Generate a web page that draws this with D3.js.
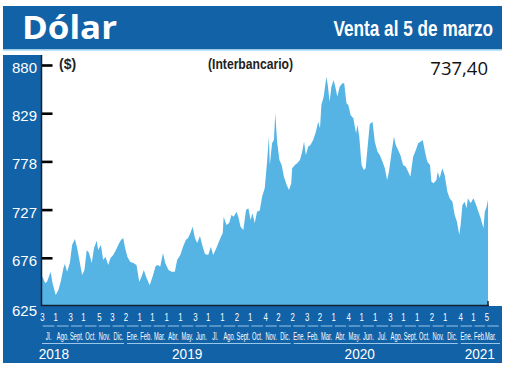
<!DOCTYPE html>
<html><head><meta charset="utf-8">
<script src="https://cdn.jsdelivr.net/npm/d3@7"></script>
<style>body{margin:0;background:#fff}svg{display:block}</style>
</head><body>
<script>
const dates = ["2018-07-02","2018-07-09","2018-07-13","2018-07-21","2018-07-25","2018-08-01","2018-08-07","2018-08-12","2018-08-18","2018-08-21","2018-08-26","2018-09-01","2018-09-06","2018-09-12","2018-09-17","2018-09-23","2018-09-28","2018-10-03","2018-10-08","2018-10-13","2018-10-19","2018-10-24","2018-10-30","2018-11-02","2018-11-08","2018-11-13","2018-11-18","2018-11-24","2018-11-29","2018-12-05","2018-12-11","2018-12-16","2018-12-22","2018-12-27","2018-12-31","2019-01-05","2019-01-11","2019-01-18","2019-01-25","2019-01-31","2019-02-05","2019-02-10","2019-02-16","2019-02-23","2019-03-02","2019-03-08","2019-03-13","2019-03-18","2019-03-24","2019-03-29","2019-04-05","2019-04-12","2019-04-19","2019-04-24","2019-05-01","2019-05-07","2019-05-13","2019-05-18","2019-05-23","2019-05-28","2019-06-02","2019-06-07","2019-06-13","2019-06-19","2019-06-24","2019-07-01","2019-07-07","2019-07-12","2019-07-19","2019-07-26","2019-08-02","2019-08-04","2019-08-10","2019-08-16","2019-08-21","2019-08-26","2019-09-01","2019-09-05","2019-09-10","2019-09-16","2019-09-22","2019-09-27","2019-10-02","2019-10-06","2019-10-11","2019-10-16","2019-10-22","2019-10-27","2019-11-02","2019-11-07","2019-11-11","2019-11-13","2019-11-18","2019-11-22","2019-11-25","2019-11-29","2019-12-04","2019-12-09","2019-12-14","2019-12-20","2019-12-25","2019-12-30","2020-01-01","2020-01-07","2020-01-12","2020-01-18","2020-01-23","2020-01-27","2020-01-31","2020-02-05","2020-02-10","2020-02-16","2020-02-22","2020-02-27","2020-03-02","2020-03-05","2020-03-10","2020-03-16","2020-03-19","2020-03-23","2020-03-27","2020-04-01","2020-04-06","2020-04-09","2020-04-14","2020-04-20","2020-04-24","2020-04-29","2020-05-03","2020-05-08","2020-05-14","2020-05-20","2020-05-23","2020-05-27","2020-06-01","2020-06-06","2020-06-10","2020-06-13","2020-06-19","2020-06-25","2020-06-30","2020-07-06","2020-07-11","2020-07-17","2020-07-22","2020-07-27","2020-07-31","2020-08-06","2020-08-11","2020-08-15","2020-08-20","2020-08-25","2020-08-31","2020-09-06","2020-09-11","2020-09-16","2020-09-22","2020-09-28","2020-10-03","2020-10-08","2020-10-13","2020-10-18","2020-10-23","2020-10-29","2020-11-01","2020-11-06","2020-11-12","2020-11-15","2020-11-19","2020-11-25","2020-11-30","2020-12-06","2020-12-11","2020-12-17","2020-12-22","2020-12-27","2021-01-01","2021-01-04","2021-01-08","2021-01-13","2021-01-17","2021-01-20","2021-01-26","2021-02-01","2021-02-07","2021-02-12","2021-02-17","2021-02-23","2021-02-26","2021-03-02","2021-03-05"];
const values = [656.7,649.3,650.7,661.3,649.3,636.6,641.9,650.7,665.2,669.4,661.3,670.5,689.5,695.9,686.4,670.5,657.8,663.1,684.3,681.1,670.5,686.4,694.1,684.3,689.5,673.7,677.2,668.4,675.8,679.0,684.3,689.5,694.8,696.9,686.4,677.2,671.9,670.5,668.4,650.7,656.0,663.1,654.6,647.0,657.3,667.3,668.4,666.6,681.1,670.5,663.1,661.3,661.3,673.7,679.0,687.7,694.8,696.9,702.2,708.9,696.9,691.7,699.1,687.7,680.0,679.0,687.7,679.0,686.4,694.8,702.2,719.5,710.7,712.8,721.3,719.5,724.8,719.5,708.9,705.4,726.6,728.4,716.0,723.1,712.8,724.8,726.0,740.3,749.8,777.7,804.1,774.2,797.1,800.6,828.9,798.8,779.5,774.2,761.8,753.0,747.7,754.8,770.7,774.2,776.0,779.5,788.3,798.8,784.8,793.5,795.3,800.6,809.4,820.0,813.0,837.7,846.5,867.6,858.8,841.2,857.0,864.1,853.5,846.5,857.0,860.6,860.6,839.5,837.7,827.1,823.6,807.7,816.5,804.1,774.2,768.9,770.7,786.6,817.6,820.0,798.8,788.3,784.8,777.7,770.7,758.3,767.1,788.3,804.1,795.3,790.0,784.8,774.2,772.4,767.1,761.8,783.0,790.0,797.1,798.8,800.6,788.3,777.7,774.2,756.5,754.8,758.3,767.1,760.1,770.7,763.6,745.9,739.0,735.4,721.3,714.2,700.1,710.7,731.9,735.4,728.4,739.0,733.7,739.0,731.9,724.8,717.8,707.2,724.8,730.1,737.4];

const yTicks = [625,676,727,778,829,880];
const monthLabels = ["Jl.","Ago.","Sept.","Oct.","Nov.","Dic.","Ene.","Feb.","Mar.","Abr.","May.","Jun.","Jl.","Ago.","Sept.","Oct.","Nov.","Dic.","Ene.","Feb.","Mar.","Abr.","May.","Jun.","Jul.","Ago.","Sept.","Oct.","Nov.","Dic.","Ene.","Feb.","Mar."];
const firstDays = [3,1,3,1,5,3,2,1,1,1,1,3,1,1,2,1,4,2,2,3,2,1,4,1,1,3,1,1,2,1,4,1,5];
const years = ["2018","2019","2020","2021"];
const yearLabelDates = ["2018-07-28","2019-05-16","2020-05-28","2021-02-15"];

const title = "Dólar";
const subtitle = "Venta al 5 de marzo";
const unitLabel = "($)";
const noteLabel = "(Interbancario)";
const lastValue = "737,40";

const BLUE = "#1262a8", AREA = "#55b4e4", DARK = "#14202e";
const parse = d3.timeParse("%Y-%m-%d");
const data = dates.map((d,i)=>({date:parse(d), value:values[i]}));

const W = 520, H = 369;
const x = d3.scaleTime().domain([parse("2018-07-02"), parse("2021-03-05")]).range([42, 488]);
const y = d3.scaleLinear().domain([625, 880]).range([306, 65]);

const svg = d3.select("body").append("svg").attr("width", W).attr("height", H);

// header
svg.append("rect").attr("x",3).attr("y",6).attr("width",499).attr("height",43.5).attr("fill",BLUE);
svg.append("rect").attr("x",3).attr("y",49.5).attr("width",499).attr("height",1.5).attr("fill","#b8e6f8");
svg.append("text").attr("x",22).attr("y",38.5).text(title)
  .attr("fill","#fff").attr("font-family","'Open Sans', sans-serif").attr("font-weight",700)
  .attr("font-size",33).attr("textLength",95).attr("lengthAdjust","spacingAndGlyphs");
svg.append("text").attr("transform","translate(493,35.5) scale(0.8,1)").attr("text-anchor","end").text(subtitle)
  .attr("fill","#fff").attr("font-family","'Liberation Sans Narrow', sans-serif").attr("font-weight",700)
  .attr("font-size",21.5);

// panels
svg.append("rect").attr("x",3).attr("y",55).attr("width",38.5).attr("height",308).attr("fill",BLUE);
svg.append("rect").attr("x",3).attr("y",306).attr("width",499).attr("height",57).attr("fill",BLUE);

// area
const area = d3.area().x(d=>x(d.date)).y0(y(625)).y1(d=>y(d.value)).curve(d3.curveLinear);
svg.append("path").datum(data).attr("d",area).attr("fill",AREA);

// y axis
const yAxis = d3.axisLeft(y).tickValues(yTicks).tickSizeInner(-11).tickSizeOuter(0).tickPadding(4.5);
const gy = svg.append("g").attr("transform","translate(41.5,0)").call(yAxis);
gy.select(".domain").remove();
gy.selectAll(".tick line").attr("stroke","#000").attr("stroke-width",2.6)
  .attr("display", d=> d===625 ? "none" : null);
gy.selectAll(".tick text").attr("fill","#fff").attr("font-family","'Liberation Sans Narrow', sans-serif")
  .attr("font-size",15).attr("dy", d=> d===625 ? "0.62em" : "0.5em");

// axis lines
svg.append("line").attr("x1",41.5).attr("x2",41.5).attr("y1",55).attr("y2",306).attr("stroke",DARK).attr("stroke-width",1.5);
svg.append("line").attr("x1",41).attr("x2",x(parse("2021-03-05"))+1).attr("y1",305.5).attr("y2",305.5).attr("stroke",DARK).attr("stroke-width",1.5);
svg.append("line").attr("x1",x(parse("2021-03-05"))).attr("x2",x(parse("2021-03-05"))).attr("y1",301).attr("y2",306).attr("stroke",DARK).attr("stroke-width",1.5);

// top labels
svg.append("text").attr("x",59).attr("y",69).text(unitLabel).attr("fill","#222")
  .attr("font-family","'Liberation Sans Narrow', sans-serif").attr("font-weight",700).attr("font-size",14);
svg.append("text").attr("x",208).attr("y",68.5).text(noteLabel).attr("fill","#222")
  .attr("font-family","'Liberation Sans Narrow', sans-serif").attr("font-weight",700).attr("font-size",14)
  .attr("textLength",85).attr("lengthAdjust","spacingAndGlyphs");
svg.append("text").attr("x",488).attr("y",75).attr("text-anchor","end").text(lastValue).attr("fill","#111")
  .attr("font-family","'Open Sans', sans-serif").attr("font-size",18.5);

// x axis months
const monthStarts = d3.timeMonth.range(new Date(2018,6,1), new Date(2021,3,1));
const xMax = 495;
const g = svg.append("g").attr("font-family","'Liberation Sans Narrow', sans-serif").attr("fill","#fff");
monthStarts.forEach((m,i)=>{
  const next = d3.timeMonth.offset(m,1);
  const x0 = Math.max(x(m), 41.5), x1 = Math.min(x(next), xMax+5);
  const cx = (x0 + Math.min(x(next), xMax)) / 2;
  const dx = x(new Date(m.getFullYear(), m.getMonth(), firstDays[i]));
  g.append("text").attr("transform",`translate(${Math.min(dx, 487)},321) scale(0.68,1)`)
    .attr("text-anchor","middle").attr("font-size",11.5).text(firstDays[i]);
  g.append("line").attr("x1",x0+1.2).attr("x2",x1-1.2).attr("y1",326).attr("y2",326)
    .attr("stroke","#a8d2f2").attr("stroke-width",0.9);
  g.append("text").attr("transform",`translate(${cx},339.5) scale(0.5,1)`)
    .attr("text-anchor","middle").attr("font-size",11.5).text(monthLabels[i]);
});
// year lines and labels
years.forEach((yr,i)=>{
  const s = new Date(+yr,0,1), e = new Date(+yr+1,0,1);
  const x0 = Math.max(x(s)+1.5, 42), x1 = Math.min(x(e)-1.5, 500);
  g.append("line").attr("x1",x0).attr("x2",x1).attr("y1",343.5).attr("y2",343.5)
    .attr("stroke","#a8d2f2").attr("stroke-width",0.9);
  g.append("text").attr("transform",`translate(${x(parse(yearLabelDates[i]))},359) scale(0.88,1)`)
    .attr("text-anchor","middle").attr("font-size",15.5).text(yr);
});
</script>
</body></html>
